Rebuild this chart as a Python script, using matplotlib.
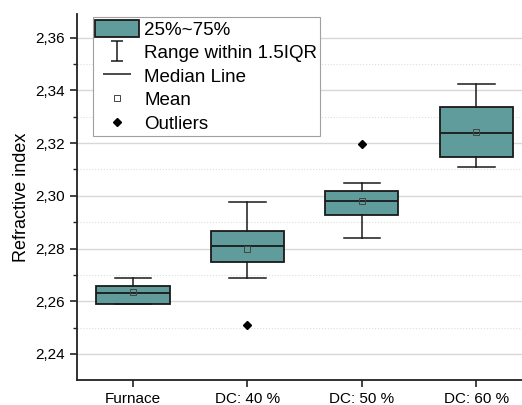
import matplotlib
matplotlib.use("Agg")
import matplotlib.pyplot as plt
from matplotlib.path import Path
from matplotlib.patches import Patch
from matplotlib.lines import Line2D

plt.rcParams['font.family'] = ['Liberation Sans', 'DejaVu Sans']

# data
groups = ['Furnace', 'DC: 40 %', 'DC: 50 %', 'DC: 60 %']
q1 = [2.2588, 2.2749, 2.2928, 2.3149]
q3 = [2.2659, 2.2868, 2.3020, 2.3337]
medians = [2.2630, 2.2809, 2.2980, 2.3238]
means = [2.2634, 2.2800, 2.2980, 2.3242]
whisk_lo = [2.2588, 2.2688, 2.2839, 2.3109]
whisk_hi = [2.2688, 2.2978, 2.3050, 2.3426]
outliers = [[], [2.2509], [2.3197], []]

teal = '#5f9c9b'

stats = []
for i in range(len(groups)):
    stats.append(dict(label=groups[i], q1=q1[i], q3=q3[i], med=medians[i],
                      mean=means[i], whislo=whisk_lo[i], whishi=whisk_hi[i],
                      fliers=outliers[i]))

fig = plt.figure(figsize=(5.22, 4.05), dpi=100)
ax = fig.add_axes([0.1475, 0.0617, 0.8525, 0.9037])

ax.bxp(stats, positions=[1, 2, 3, 4], widths=0.64, capwidths=0.32,
       patch_artist=True, showmeans=True,
       boxprops=dict(facecolor=teal, edgecolor='#1a1a1a', linewidth=1.3),
       medianprops=dict(color='#1a1a1a', linewidth=1.3),
       whiskerprops=dict(color='#1a1a1a', linewidth=1.1),
       capprops=dict(color='#1a1a1a', linewidth=1.1),
       meanprops=dict(marker='s', markersize=3.7, markerfacecolor='none',
                      markeredgecolor='#444444', markeredgewidth=0.7),
       flierprops=dict(marker='D', markersize=3.7, markerfacecolor='black',
                       markeredgecolor='black'))

ax.set_xlim(0.51, 4.40)
ax.set_ylim(2.2301, 2.369)
ax.set_yticks([2.24, 2.26, 2.28, 2.30, 2.32, 2.34, 2.36])
ax.set_yticklabels(['2,24', '2,26', '2,28', '2,30', '2,32', '2,34', '2,36'])
ax.set_yticks([2.25, 2.27, 2.29, 2.31, 2.33, 2.35], minor=True)
ax.set_xticks([1, 2, 3, 4])
ax.set_xticklabels(groups)

ax.grid(axis='y', which='major', color='#d8d8d8', linewidth=1.0)
ax.grid(axis='y', which='minor', color='#dddddd', linewidth=0.8, linestyle=':')
ax.set_axisbelow(True)

for s in ['top', 'right']:
    ax.spines[s].set_visible(False)
for s in ['left', 'bottom']:
    ax.spines[s].set_linewidth(1.3)
    ax.spines[s].set_color('#222222')

ax.tick_params(axis='both', which='major', direction='out', length=5, width=1.2,
               labelsize=11, color='#222222')
ax.tick_params(axis='y', which='minor', direction='out', length=3, width=1.0,
               color='#222222')
ax.set_ylabel('Refractive index', fontsize=13)

ibeam = Path([(-0.6, -1), (0.6, -1), (0, -1), (0, 1), (-0.6, 1), (0.6, 1)],
             [Path.MOVETO, Path.LINETO, Path.MOVETO, Path.LINETO,
              Path.MOVETO, Path.LINETO])

handles = [
    Patch(facecolor=teal, edgecolor='#1a1a1a', linewidth=1.3, label='25%~75%'),
    Line2D([], [], linestyle='none', marker=ibeam, markersize=15,
           color='#1a1a1a', markeredgewidth=1.1, label='Range within 1.5IQR'),
    Line2D([], [], linestyle='none', marker='_', markersize=19.5,
           color='#1a1a1a', markeredgewidth=1.1, label='Median Line'),
    Line2D([], [], linestyle='none', marker='s', markersize=3.7,
           markerfacecolor='none', markeredgecolor='#444444',
           markeredgewidth=0.7, label='Mean'),
    Line2D([], [], linestyle='none', marker='D', markersize=3.7,
           color='black', label='Outliers'),
]
leg = ax.legend(handles=handles, loc='upper left', bbox_to_anchor=(0.033, 0.995),
                fontsize=13.5, frameon=True, fancybox=False, framealpha=1,
                edgecolor='#a0a0a0', handlelength=2.3, handleheight=1.05,
                handletextpad=0.3, labelspacing=0.24, borderpad=0.15,
                borderaxespad=0.05)
leg.get_frame().set_linewidth(0.8)

fig.savefig('out.png', dpi=100)
